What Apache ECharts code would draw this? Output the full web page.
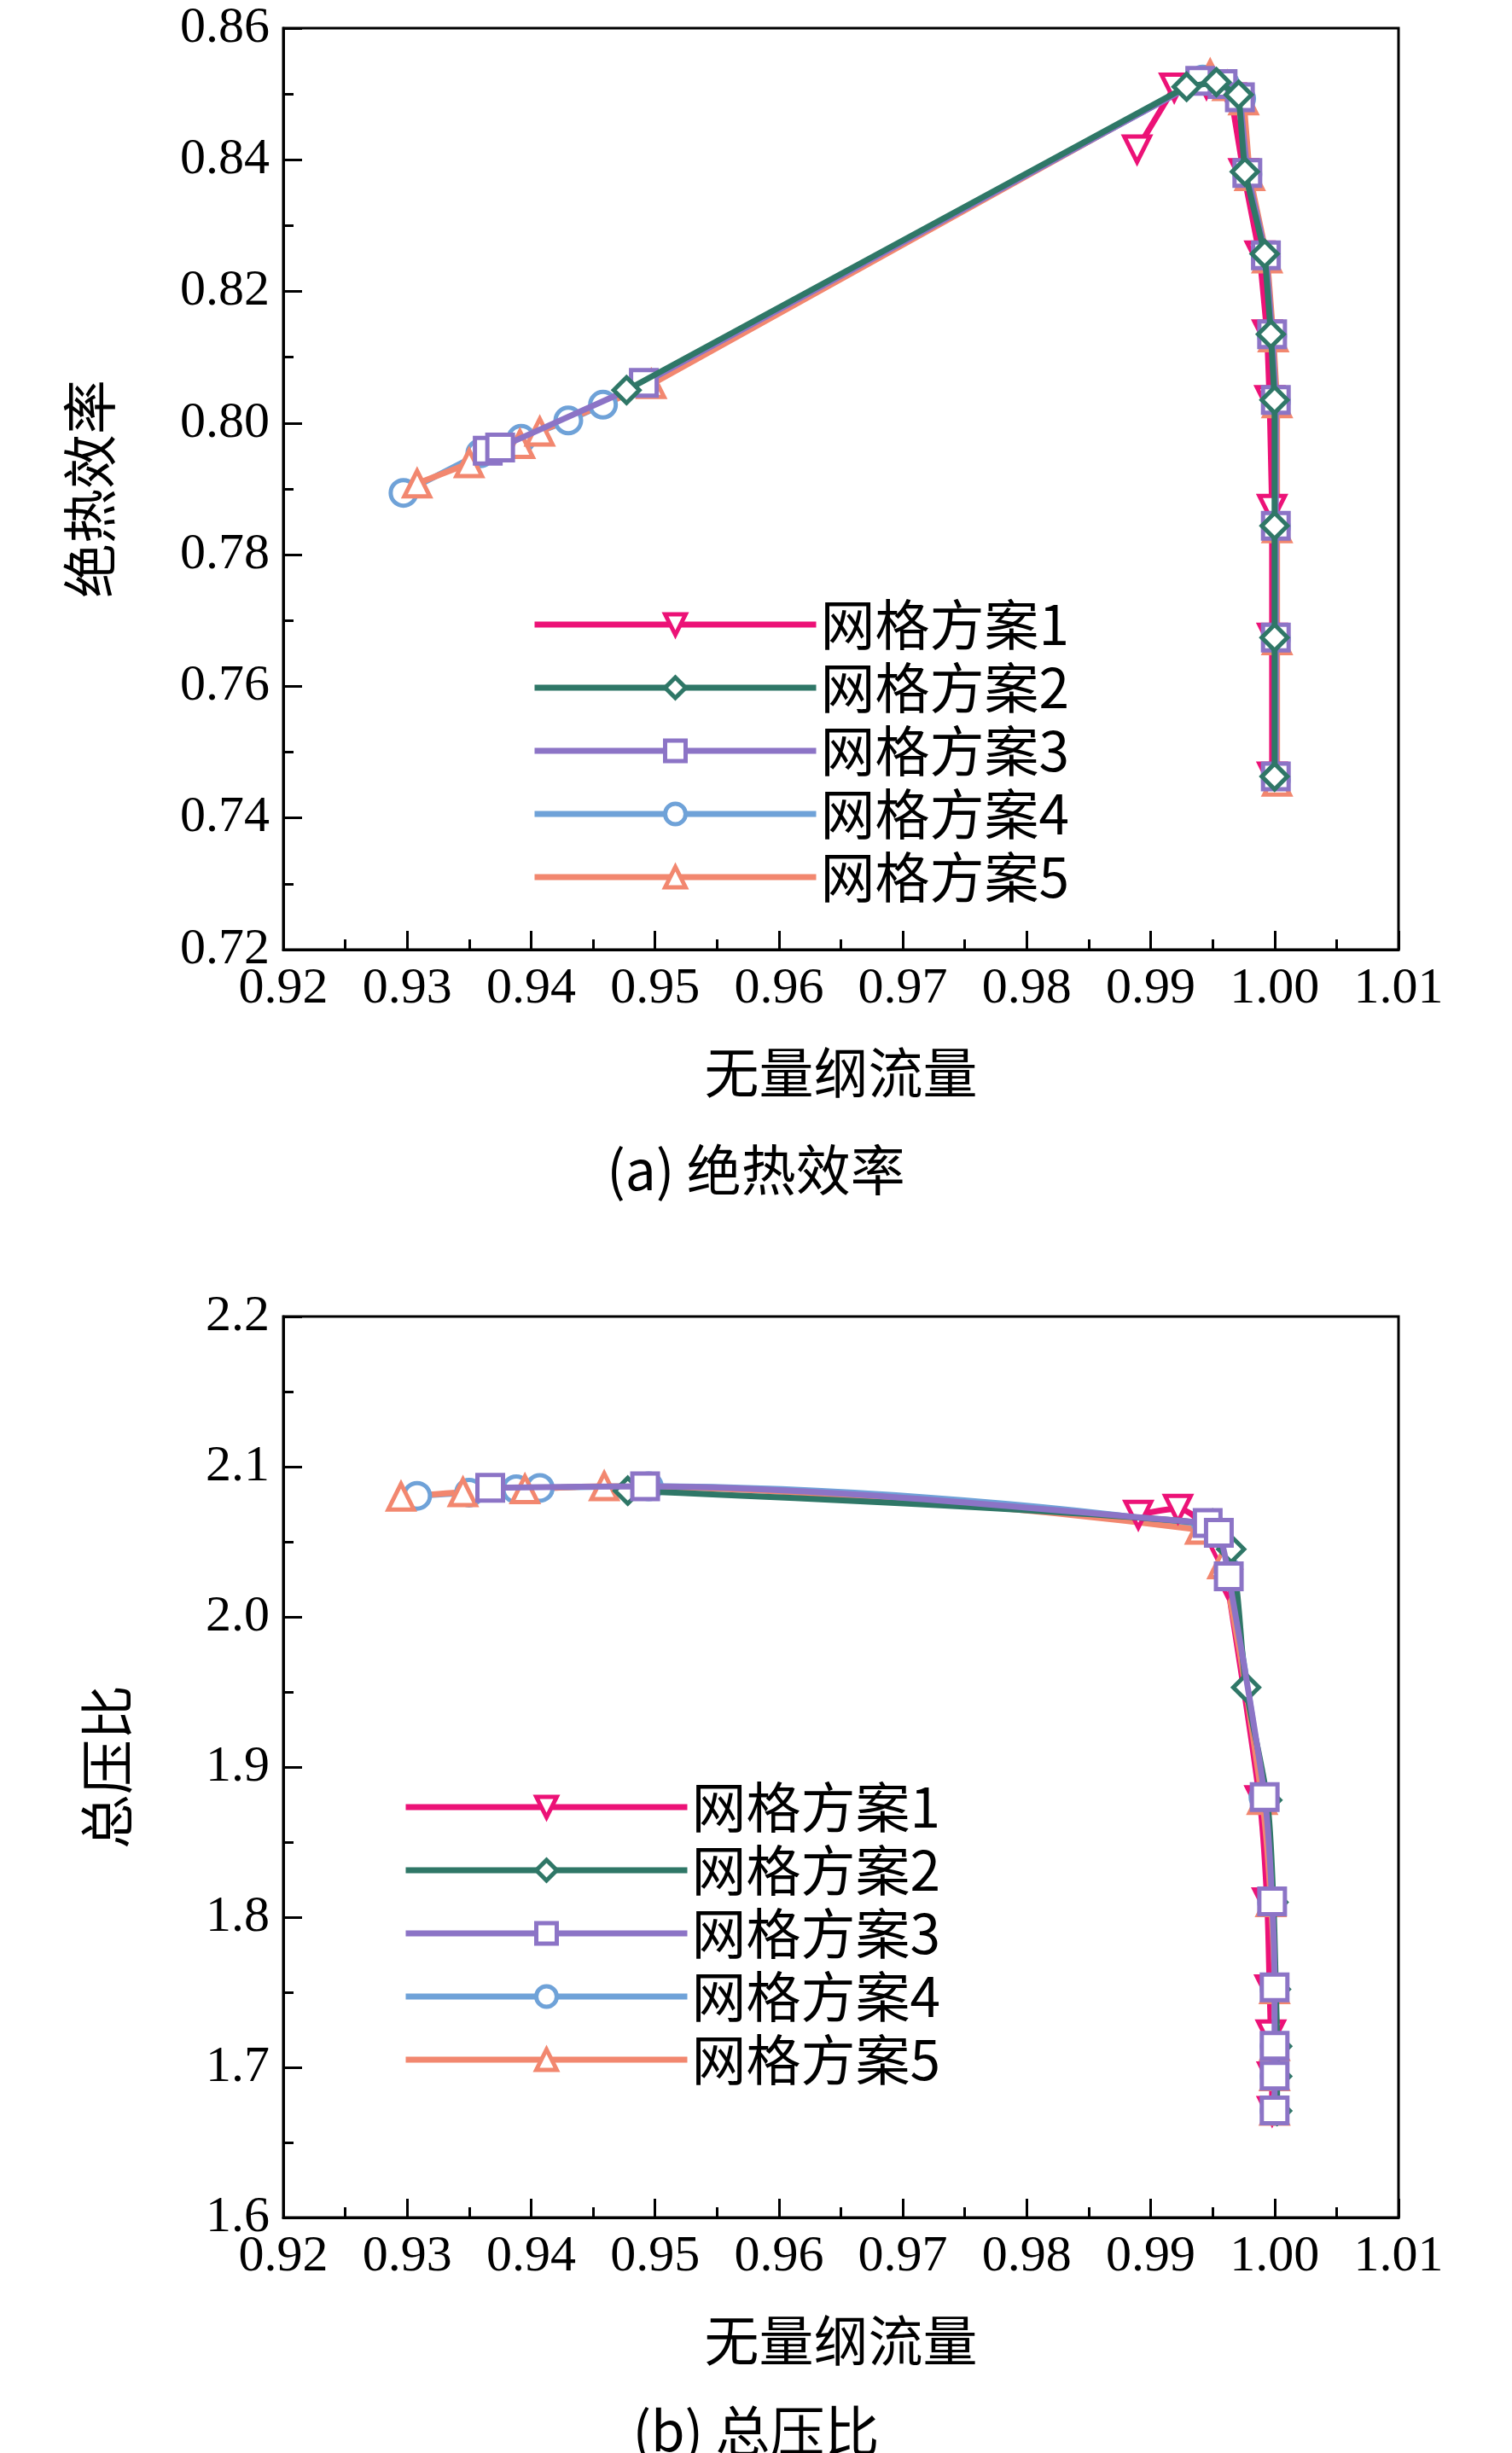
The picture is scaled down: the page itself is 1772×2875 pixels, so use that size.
<!DOCTYPE html>
<html><head><meta charset="utf-8">
<script src="https://cdn.jsdelivr.net/npm/echarts@6/dist/echarts.min.js"></script>
<style>html,body{margin:0;background:#fff}#c{width:1772px;height:2875px}</style>
</head><body><div id="c"></div>
<script>
var names = ['网格方案1','网格方案2','网格方案3','网格方案4','网格方案5'];
var colors = ['#ec1277','#2f7767','#8c74c6','#6fa2d8','#f2876f'];
var symbols = ['triangle','diamond','rect','circle','triangle'];
var rotates = [180,0,0,0,0];

// (a) 绝热效率
var effA = [
  [[0.9889,0.8416],[0.9919,0.8510],[0.9945,0.8515],[0.9965,0.8495],[0.9975,0.8380],[0.9988,0.8255],[0.9994,0.8135],[0.9996,0.8035],[0.9998,0.7870],[0.9998,0.7674],[0.9998,0.7463]],
  [[0.9477,0.8050],[0.9929,0.8511],[0.9953,0.8518],[0.9971,0.8499],[0.9976,0.8382],[0.9992,0.8257],[0.9997,0.8135],[1.0000,0.8035],[1.0000,0.7844],[1.0000,0.7674],[1.0000,0.7463]],
  [[0.9365,0.7958],[0.9375,0.7963],[0.9491,0.8061],[0.9940,0.8520],[0.9958,0.8515],[0.9972,0.8495],[0.9978,0.8380],[0.9993,0.8255],[0.9998,0.8135],[1.0001,0.8035],[1.0001,0.7844],[1.0001,0.7674],[1.0001,0.7463]],
  [[0.9297,0.7894],[0.9359,0.7954],[0.9392,0.7976],[0.9430,0.8004],[0.9458,0.8028],[0.9942,0.8522],[0.9960,0.8515],[0.9973,0.8493],[0.9978,0.8378],[0.9993,0.8253],[0.9998,0.8132],[1.0001,0.8033],[1.0001,0.7842],[1.0001,0.7672],[1.0001,0.7458]],
  [[0.9308,0.7908],[0.9350,0.7939],[0.9391,0.7968],[0.9407,0.7987],[0.9497,0.8059],[0.9948,0.8530],[0.9962,0.8512],[0.9975,0.8490],[0.9980,0.8375],[0.9994,0.8250],[0.9999,0.8130],[1.0002,0.8030],[1.0002,0.7840],[1.0002,0.7670],[1.0002,0.7455]]
];
// (b) 总压比
var prB = [
  [[0.9890,2.068],[0.9922,2.072],[0.9950,2.055],[0.9958,2.040],[0.9962,2.022],[0.9988,1.878],[0.9994,1.810],[0.9996,1.752],[0.9997,1.722],[0.9998,1.694],[0.9998,1.671]],
  [[0.9478,2.084],[0.9950,2.062],[0.9965,2.045],[0.9977,1.953],[0.9994,1.878],[0.9999,1.810],[1.0001,1.752],[1.0002,1.714],[1.0002,1.694],[1.0002,1.671]],
  [[0.9367,2.086],[0.9492,2.087],[0.9946,2.0625],[0.9955,2.056],[0.9963,2.027],[0.9992,1.880],[0.9998,1.8105],[1.0000,1.7532],[1.0000,1.7144],[1.0000,1.6944],[1.0000,1.6713]],
  [[0.9308,2.0806],[0.9350,2.0827],[0.9388,2.0850],[0.9407,2.0858],[0.9495,2.0869],[0.9945,2.060],[0.9962,2.030],[0.9991,1.880],[0.9998,1.810],[1.0000,1.752],[1.0000,1.714],[1.0000,1.694],[1.0000,1.671]],
  [[0.9295,2.0800],[0.9345,2.0830],[0.9395,2.0850],[0.9459,2.0870],[0.9940,2.058],[0.9958,2.035],[0.9990,1.878],[0.9997,1.810],[1.0000,1.752],[1.0000,1.714],[1.0000,1.694],[1.0000,1.671]]
];
var xTicks = [0.92,1.01];
var yTicksA = [0.72,0.86];
var yTicksB = [1.6,2.2];

var serif = '"Liberation Serif",serif';
var cjk = '"Noto Sans CJK SC",serif';

function xAx(gi){
  return {type:'value',gridIndex:gi,min:xTicks[0],max:xTicks[1],interval:0.01,
    axisLine:{onZero:false,lineStyle:{color:'#000',width:3}},
    axisTick:{inside:true,length:22,lineStyle:{color:'#000',width:3}},
    minorTick:{show:true,splitNumber:2,length:12,lineStyle:{color:'#000',width:3}},
    splitLine:{show:false},
    axisLabel:{fontFamily:serif,fontSize:60,color:'#000',margin:16,formatter:function(v){return v.toFixed(2);}},
    name:'无量纲流量',nameLocation:'middle',nameGap:112,nameTextStyle:{fontFamily:cjk,fontSize:64,color:'#000'}};
}
function yAx(gi,r,iv,dec,nm){
  return {type:'value',gridIndex:gi,min:r[0],max:r[1],interval:iv,
    axisLine:{onZero:false,lineStyle:{color:'#000',width:3}},
    axisTick:{inside:true,length:22,lineStyle:{color:'#000',width:3}},
    minorTick:{show:true,splitNumber:2,length:12,lineStyle:{color:'#000',width:3}},
    splitLine:{show:false},
    axisLabel:{fontFamily:serif,fontSize:60,color:'#000',margin:16,formatter:function(v){return v.toFixed(dec);}},
    name:nm,nameLocation:'middle',nameGap:dec===2?195:175,nameRotate:90,nameTextStyle:{fontFamily:cjk,fontSize:64,color:'#000'}};
}
var zA = [3,6,4,3,3], zB = [3,4,6,3,3];
var series = [];
[effA,prB].forEach(function(set,gi){
  set.forEach(function(d,i){
    series.push({name:names[i],type:'line',xAxisIndex:gi,yAxisIndex:gi,data:d,
      smooth:gi===1?0.3:false,symbol:symbols[i],symbolRotate:rotates[i],symbolSize:30,
      lineStyle:{color:colors[i],width:7},
      itemStyle:{color:'#fff',borderColor:colors[i],borderWidth:5},z:(gi===0?zA:zB)[i]});
  });
});
function leg(left,top){
  return {data:names,orient:'vertical',left:left,top:top,itemWidth:330,itemHeight:30,itemGap:10,
    lineStyle:{width:7},itemStyle:{borderWidth:5},
    textStyle:{fontFamily:cjk,fontSize:64,color:'#000'},selectedMode:false};
}
var chart = echarts.init(document.getElementById('c'));
chart.setOption({
  backgroundColor:'#fff',animation:false,
  grid:[{left:332,width:1307,top:33,height:1080,show:true,borderColor:'#000',borderWidth:3},
        {left:332,width:1307,top:1543,height:1056,show:true,borderColor:'#000',borderWidth:3}],
  xAxis:[xAx(0),xAx(1)],
  yAxis:[yAx(0,yTicksA,0.02,2,'绝热效率'),yAx(1,yTicksB,0.1,1,'总压比')],
  legend:[leg(618,695),leg(467,2081)],
  title:[{text:'(a) 绝热效率',left:'center',top:1334,textStyle:{fontFamily:cjk,fontSize:64,fontWeight:'normal',color:'#000'}},
         {text:'(b) 总压比',left:'center',top:2812,textStyle:{fontFamily:cjk,fontSize:64,fontWeight:'normal',color:'#000'}}],
  series:series
});
</script></body></html>
